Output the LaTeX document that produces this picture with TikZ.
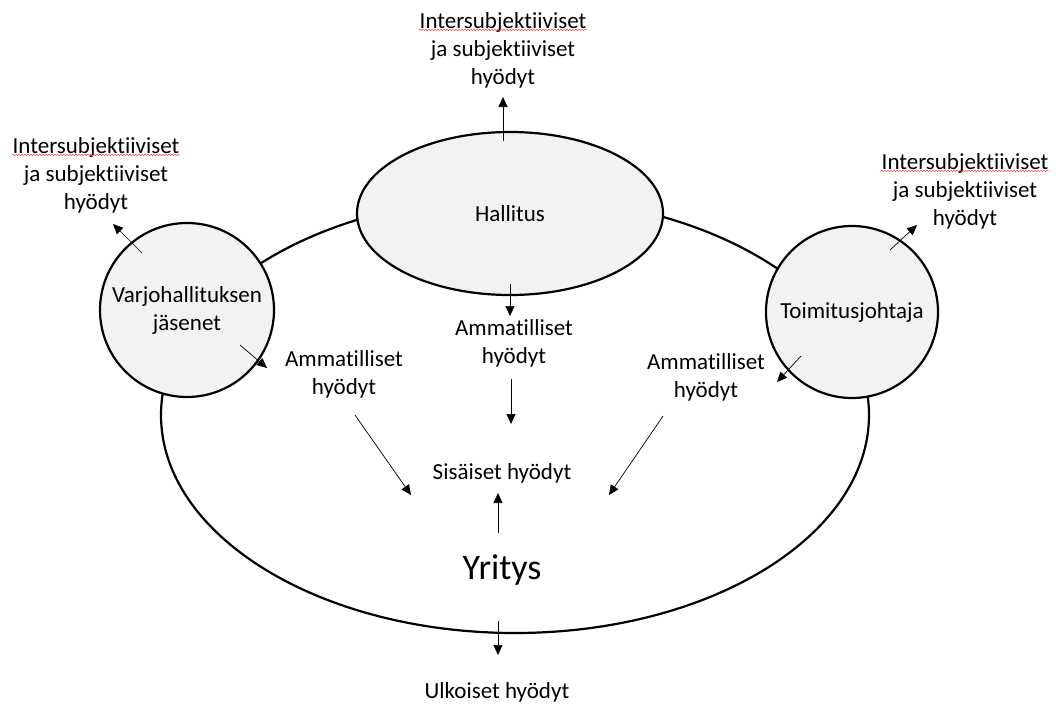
\documentclass[tikz,border=0pt]{standalone}
\usepackage{fontspec}
\setmainfont{Carlito}[Ligatures=NoCommon]
\usetikzlibrary{arrows.meta,shapes.geometric,decorations.pathmorphing}
\definecolor{shade}{HTML}{F2F2F2}
\begin{document}
\begin{tikzpicture}[x=1pt,y=-1pt,
  lbl/.style={font=\fontsize{23}{28}\selectfont, align=center, inner sep=0pt},
  shapeline/.style={draw, line width=2.2pt},
  arr/.style={-{Triangle[length=10pt,width=9pt]}, line width=0.7pt},
  spell/.style={red!80!white, line width=0.5pt, decorate,
    decoration={snake, amplitude=0.6pt, segment length=3pt}}]
\useasboundingbox (0,0) rectangle (1058,704);
% company ellipse
\node[ellipse, shapeline, minimum width=708pt, minimum height=436pt, inner sep=0pt] (firm) at (515,415) {};
% board
\node[ellipse, shapeline, fill=shade, minimum width=306pt, minimum height=163pt, lbl] (hall) at (510,213.5) {Hallitus};
% shadow board members
\node[circle, shapeline, fill=shade, minimum size=174pt, lbl] (varjo) at (187,310) {Varjohallituksen\\jäsenet};
% CEO
\node[circle, shapeline, fill=shade, minimum size=172pt, lbl] (toim) at (852,312) {Toimitusjohtaja};

% texts
\node[lbl] (topben) at (503,50) {Intersubjektiiviset\\ja subjektiiviset\\hyödyt};
\node[lbl] (leftben) at (96,175) {Intersubjektiiviset\\ja subjektiiviset\\hyödyt};
\node[lbl] (rightben) at (965,191) {Intersubjektiiviset\\ja subjektiiviset\\hyödyt};
\node[lbl] (ammM) at (514,343) {Ammatilliset\\hyödyt};
\node[lbl] (ammL) at (344,374) {Ammatilliset\\hyödyt};
\node[lbl] (ammR) at (706,377) {Ammatilliset\\hyödyt};
\node[lbl] (sis) at (502,473) {Sisäiset hyödyt};
\node[lbl, font=\fontsize{36}{40}\selectfont] (yr) at (502,570) {Yritys};
\node[lbl] (ulk) at (497,692) {Ulkoiset hyödyt};

% spell-check underlines
\draw[spell] ([xshift=-84pt,yshift=-18pt]topben.north) -- ++(168,0);
\draw[spell] ([xshift=-84pt,yshift=-18pt]leftben.north) -- ++(168,0);
\draw[spell] ([xshift=-84pt,yshift=-18pt]rightben.north) -- ++(168,0);

% connector end points
\coordinate (hTop) at (503,141);
\coordinate (topTip) at (503,97);
\coordinate (hBot) at (510,284);
\coordinate (hBotTip) at (510,316);
\coordinate (mStart) at (511,379);
\coordinate (mTip) at (511,424);
\coordinate (lStart) at (355,415);
\coordinate (lTip) at (411,495);
\coordinate (rStart) at (663,416);
\coordinate (rTip) at (609,495);
\coordinate (yStart) at (498,533);
\coordinate (yTip) at (498,493);
\coordinate (bStart) at (498,621);
\coordinate (bTip) at (498,655);
\coordinate (vUp) at (142,253);
\coordinate (vUpTip) at (113,224);
\coordinate (vDn) at (240,345);
\coordinate (vDnTip) at (267,368);
\coordinate (tUp) at (890,250);
\coordinate (tUpTip) at (917,225);
\coordinate (tDn) at (801,356);
\coordinate (tDnTip) at (777,382);

\draw[arr] (hTop) -- (topTip);
\draw[arr] (hBot) -- (hBotTip);
\draw[arr] (mStart) -- (mTip);
\draw[arr] (lStart) -- (lTip);
\draw[arr] (rStart) -- (rTip);
\draw[arr] (yStart) -- (yTip);
\draw[arr] (bStart) -- (bTip);
\draw[arr] (vUp) -- (vUpTip);
\draw[arr] (vDn) -- (vDnTip);
\draw[arr] (tUp) -- (tUpTip);
\draw[arr] (tDn) -- (tDnTip);
\end{tikzpicture}
\end{document}
